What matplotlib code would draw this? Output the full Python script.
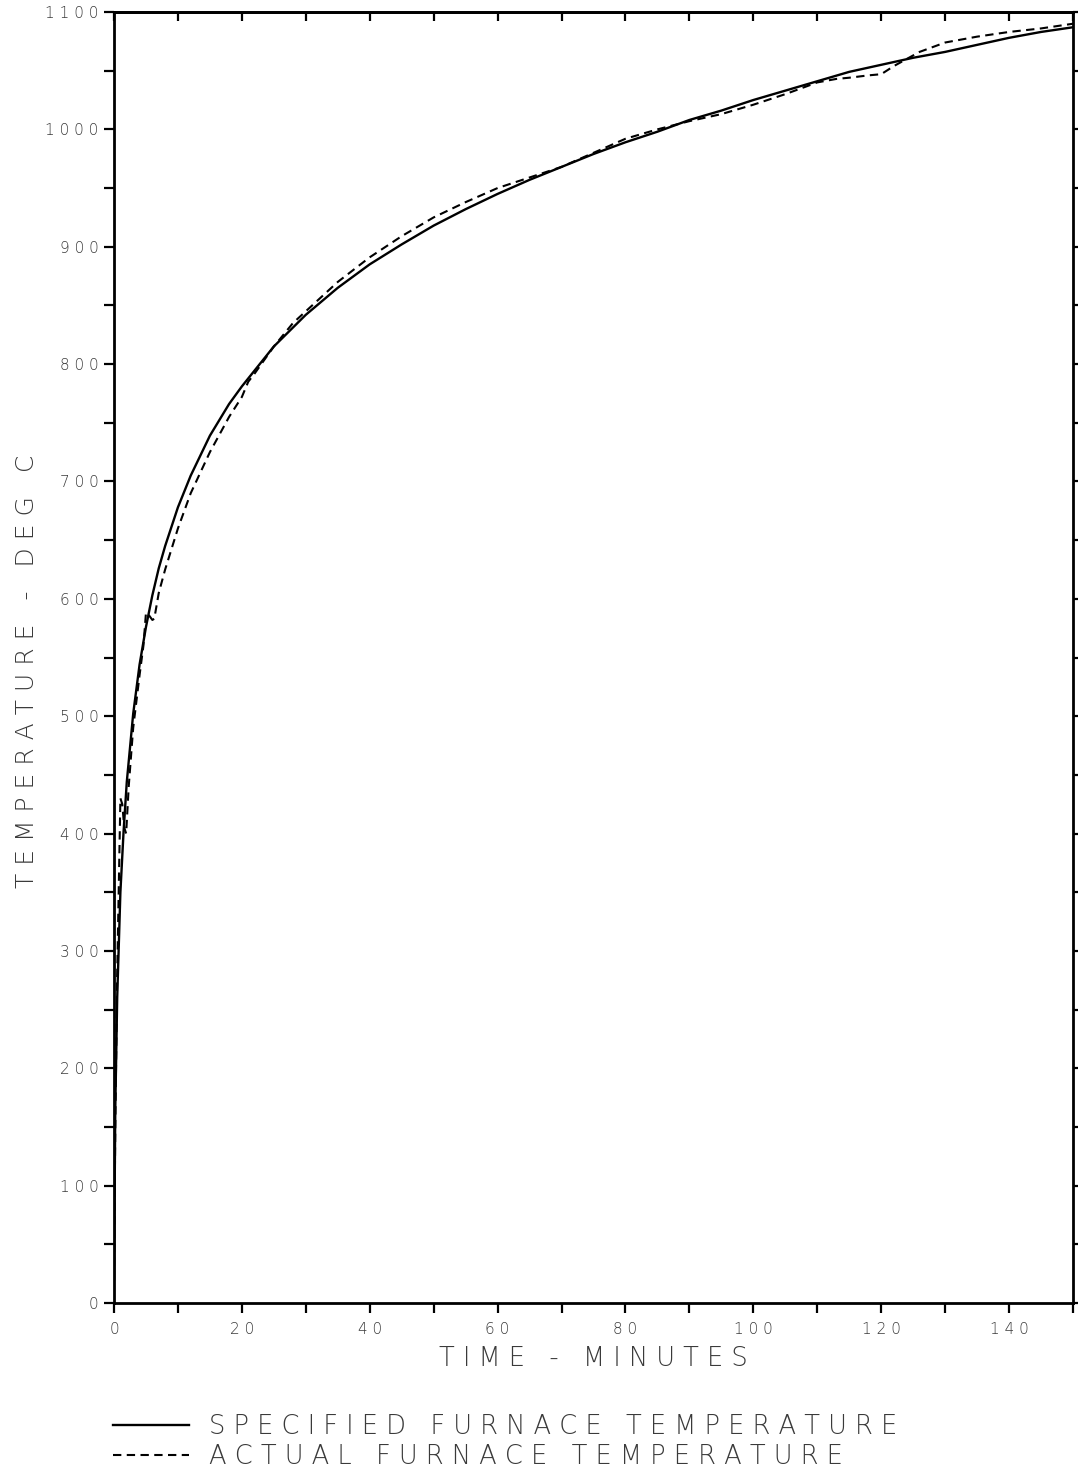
import matplotlib
matplotlib.use("Agg")
import matplotlib.pyplot as plt
from matplotlib.ticker import FuncFormatter, NullFormatter

# ---- data ----
spec_time = [0, 0.2, 0.5, 1, 1.5, 2, 3, 4, 5, 6, 7, 8, 10, 12, 15, 18, 20, 25, 30, 35,
             40, 45, 50, 55, 60, 65, 70, 75, 80, 85, 90, 95, 100, 105, 110, 115, 120,
             125, 130, 135, 140, 145, 150]
spec_temp = [20, 165, 260, 350, 402, 444, 502, 544, 576, 603, 626, 645, 678, 705, 739, 766,
             781, 815, 842, 865, 885, 902, 918, 932, 945, 957, 968, 979, 989, 998, 1008,
             1016, 1025, 1033, 1041, 1049, 1055, 1061, 1066, 1072, 1078, 1083, 1087]

act_time = [0, 0.2, 0.5, 0.8, 1.0, 1.3, 1.6, 1.9, 2.3, 3, 4, 4.6, 5.0, 5.2, 6.0, 6.3, 7, 8,
            10, 12, 15, 18, 20, 21, 22, 25, 28, 30, 35, 40, 45, 50, 55, 60, 65, 70, 75, 80,
            85, 90, 95, 100, 105, 110, 113, 115, 118, 120, 122, 124, 126, 128, 130, 135,
            140, 145, 150]
act_temp = [20, 150, 280, 370, 430, 425, 405, 400, 440, 490, 535, 560, 588, 588, 582, 583,
            605, 625, 660, 690, 725, 755, 772, 785, 792, 815, 835, 845, 870, 891, 909, 925,
            938, 950, 959, 968, 980, 992, 1000, 1007, 1013, 1021, 1030, 1040, 1043, 1044,
            1046, 1047, 1054, 1060, 1066, 1070, 1074, 1079, 1083, 1086, 1090]

x_major = list(range(0, 151, 20))
x_minor = list(range(0, 151, 10))
y_major = list(range(0, 1101, 100))
y_minor = list(range(0, 1101, 50))

x_title = "TIME - MINUTES"
y_title = "TEMPERATURE - DEG C"
labels = ["SPECIFIED FURNACE TEMPERATURE", "ACTUAL FURNACE TEMPERATURE"]


def spaced(s):
    return "   ".join(" ".join(w) for w in s.split(" "))


TXT = "#3a3a3a"
FW = "light"

fig = plt.figure(figsize=(10.78, 14.74), dpi=100)
ax = fig.add_axes([114 / 1078, 171 / 1474, 959 / 1078, 1291 / 1474])

l1, = ax.plot(spec_time, spec_temp, color="black", lw=1.7)
l2, = ax.plot(act_time, act_temp, color="black", lw=1.5, ls=(0, (4, 2.6)))

ax.set_xlim(0, 150)
ax.set_ylim(0, 1100)

for sp in ax.spines.values():
    sp.set_linewidth(2.0)

ax.set_xticks(x_major)
ax.set_xticks(x_minor, minor=True)
ax.set_yticks(y_major)
ax.set_yticks(y_minor, minor=True)

fmt = FuncFormatter(lambda v, p: " ".join(str(int(round(v)))))
ax.xaxis.set_major_formatter(fmt)
ax.yaxis.set_major_formatter(fmt)

ax.tick_params(axis="x", which="both", direction="out", length=7, width=1.6,
               bottom=True, top=False, pad=7, labelsize=11, labelcolor=TXT)
ax.tick_params(axis="y", which="both", direction="out", length=7, width=1.6,
               left=True, right=True, pad=4, labelsize=11, labelcolor=TXT)
for lab in ax.get_xticklabels() + ax.get_yticklabels():
    lab.set_fontweight(FW)

sec = ax.secondary_xaxis("top")
sec.set_xticks(x_minor)
sec.xaxis.set_major_formatter(NullFormatter())
sec.tick_params(direction="in", length=6.5, width=1.6)
sec.spines["top"].set_linewidth(2.0)

ax.set_xlabel(spaced(x_title), fontsize=18.5, color=TXT, fontweight=FW)
ax.xaxis.set_label_coords(0.4995, -0.033)
ax.set_ylabel(spaced(y_title), fontsize=18, color=TXT, fontweight=FW)
ax.yaxis.set_label_coords(-0.078, 0.489)

leg = fig.legend([l1, l2], [spaced(s) for s in labels], loc="upper left",
                 bbox_to_anchor=(113 / 1078, 1 - 1414 / 1474), frameon=False,
                 fontsize=18.5, handlelength=2.95, handletextpad=0.8,
                 labelspacing=0.2, borderpad=0, borderaxespad=0)
for t in leg.get_texts():
    t.set_color(TXT)
    t.set_fontweight(FW)

fig.savefig("out.png", dpi=100)
